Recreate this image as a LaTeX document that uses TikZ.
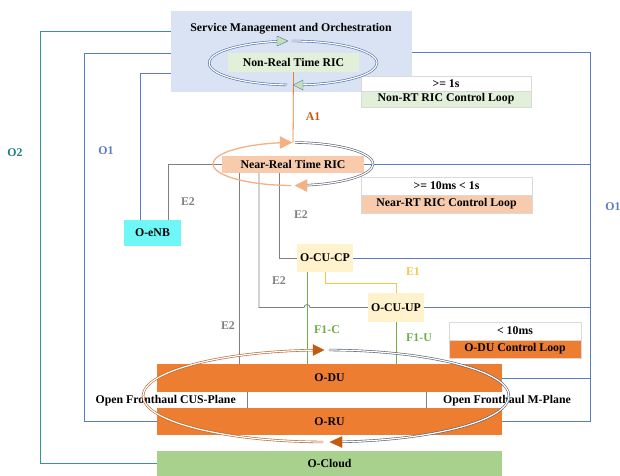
\documentclass[tikz,border=0pt]{standalone}
\usepackage{fontspec}
\setmainfont{Liberation Serif}
\usetikzlibrary{calc}
\definecolor{smoblue}{HTML}{DAE3F3}
\definecolor{nrtgreen}{HTML}{E2F0D9}
\definecolor{nearpeach}{HTML}{F8CBAD}
\definecolor{enbcyan}{HTML}{6FF7F7}
\definecolor{cuyellow}{HTML}{FFF2CC}
\definecolor{duorange}{HTML}{ED7D31}
\definecolor{cloudgreen}{HTML}{A9D18E}
\definecolor{oneblue}{HTML}{5B7BC4}
\definecolor{twoteal}{HTML}{3A9494}
\definecolor{twotext}{HTML}{1F7F7F}
\definecolor{egray}{HTML}{808080}
\definecolor{eoneyellow}{HTML}{F2C94C}
\definecolor{fgreen}{HTML}{70AD47}
\definecolor{aorange}{HTML}{ED7D31}
\definecolor{atext}{HTML}{C55A11}
\definecolor{loopblue}{HTML}{4F6FA8}
\definecolor{arrgreen}{HTML}{C5E0B4}
\definecolor{arrpeach}{HTML}{F4B183}
\definecolor{loopbrown}{HTML}{B5652E}
\definecolor{loopslate}{HTML}{5A6070}
\definecolor{arrbrown}{HTML}{C55A11}
\definecolor{lightborder}{HTML}{D9D9D9}
\begin{document}
\begin{tikzpicture}[x=1pt,y=-1pt,
  font=\fontsize{11.8}{13}\selectfont\bfseries,
  box/.style={inner sep=0pt, text=black},
  loopbox/.style={box, draw=lightborder, line width=0.5pt},
  oneline/.style={draw=oneblue, line width=0.8pt},
  twoline/.style={draw=twoteal, line width=0.9pt},
  etwoline/.style={draw=egray, line width=0.8pt},
  eoneline/.style={draw=eoneyellow, line width=0.9pt},
  fline/.style={draw=fgreen, line width=0.8pt},
  aline/.style={draw=aorange, line width=0.8pt},
  dblloop/.style={draw=#1, double=white, line width=0.6pt, double distance=1.2pt},
  lbl/.style={inner sep=0pt}
]
\useasboundingbox (0,0) rectangle (620,475);
\fill[white] (0,0) rectangle (620,475);

% main boxes
\node[box, fill=smoblue, minimum width=241pt, minimum height=81pt] (smo) at (291.5,51.5) {};
\node[lbl] (smotext) at (291,29) {Service Management and Orchestration};
\node[box, fill=nrtgreen, minimum width=131pt, minimum height=19pt] (nonrt) at (293.5,62.5) {Non-Real Time RIC};
\node[box, fill=nearpeach, minimum width=142pt, minimum height=17pt] (nearrt) at (293,164.5) {Near-Real Time RIC};
\node[box, fill=enbcyan, minimum width=57pt, minimum height=26pt] (oenb) at (152.5,233) {O-eNB};
\node[box, fill=cuyellow, minimum width=56pt, minimum height=28pt] (ocucp) at (325,258) {O-CU-CP};
\node[box, fill=cuyellow, minimum width=56pt, minimum height=29pt] (ocuup) at (396,307.5) {O-CU-UP};
\node[box, fill=duorange, minimum width=345pt, minimum height=28pt] (odu) at (329.5,378) {O-DU};
\node[box, fill=duorange, minimum width=345pt, minimum height=27pt] (oru) at (329.5,421.5) {O-RU};
\node[box, fill=cloudgreen, minimum width=345pt, minimum height=25pt] (ocloud) at (329.5,463.5) {O-Cloud};

% control loop boxes
\node[loopbox, fill=white, minimum width=170pt, minimum height=15pt] (nrtw) at (446,83.5) {>= 1s};
\node[loopbox, fill=nrtgreen, minimum width=170pt, minimum height=16pt] (nrtg) at (446,99) {Non-RT RIC Control Loop};
\node[loopbox, fill=white, minimum width=171pt, minimum height=18pt] (nearw) at (446.5,186) {>= 10ms < 1s};
\node[loopbox, fill=nearpeach, minimum width=171pt, minimum height=18pt] (nearp) at (446.5,204) {Near-RT RIC Control Loop};
\node[loopbox, fill=white, minimum width=132pt, minimum height=18pt] (oduw) at (515,331) {< 10ms};
\node[loopbox, fill=duorange, minimum width=132pt, minimum height=18pt] (oduo) at (515,349) {O-DU Control Loop};

\coordinate (rr) at (590,0);

% O2
\draw[twoline] (smo.west |- 0,31) -- (40,31) |- (ocloud.west);
% O1 left
\draw[oneline] (smo.west |- 0,53) -- (84,53) |- (oru.west);
\draw[oneline] (smo.west |- 0,73) -| ([xshift=-12.5pt]oenb.north);
% O1 right
\draw[oneline] (smo.east |- 0,52) -| (oru.east -| rr) -- (oru.east);
\draw[oneline] (nearrt.east) -- (nearrt.east -| rr);
\draw[oneline] (ocucp.east) -- (ocucp.east -| rr);
\draw[oneline] (ocuup.east) -- (ocuup.east -| rr);
\draw[oneline] (odu.east) -- (odu.east -| rr);

% A1
\draw[aline] (nonrt.south) -- (293,142.5);

% E2
\draw[etwoline] ([xshift=15.5pt]oenb.north) |- (nearrt.west);
\draw[etwoline] (nearrt.south -| 239,0) -- (odu.north -| 239,0);
\draw[etwoline] (nearrt.south -| 259,0) -- (259,307.5) -- (304,307.5)
   arc[start angle=180, end angle=360, radius=3] -- (ocuup.west);
\draw[etwoline] (nearrt.south -| 279,0) |- (ocucp.west);

% E1
\draw[eoneline] (ocucp.south) -- ++(0,11) -| (ocuup.north);
% F1
\draw[fline] ([xshift=-18pt]ocucp.south) -- (odu.north -| 307,0);
\draw[fline] (ocuup.south) -- (odu.north -| ocuup.south);

% fronthaul
\draw[etwoline] (odu.south -| 247,0) -- (oru.north -| 247,0);
\draw[etwoline] (odu.south -| 426,0) -- (oru.north -| 426,0);
\node[lbl, anchor=east] (cus) at (236,400.5) {Open Fronthaul CUS-Plane};
\node[lbl, anchor=west] (mpl) at (443,400.5) {Open Fronthaul M-Plane};

% Non-RT loop
\draw[dblloop=loopblue] (293,63) ++(94.1:84 and 22) arc[start angle=94.1, end angle=259, x radius=84, y radius=22];
\draw[dblloop=loopblue] (293,63) ++(269.3:84 and 22) arc[start angle=269.3, end angle=443.2, x radius=84, y radius=22];
\filldraw[fill=arrgreen, draw=loopblue, line width=0.4pt] (288,41) -- (277,36) -- (277,46) -- cycle;
\filldraw[fill=arrgreen, draw=loopblue, line width=0.4pt] (293,85) -- (303,80) -- (303,90) -- cycle;

% Near-RT loop
\draw[draw=arrpeach, line width=1.3pt] (293,164) ++(91.4:80 and 21.5) arc[start angle=91.4, end angle=260.6, x radius=80, y radius=21.5];
\draw[dblloop=loopslate] (293,164) ++(271.4:80 and 21.5) arc[start angle=271.4, end angle=439.9, x radius=80, y radius=21.5];
\filldraw[fill=arrpeach, draw=arrpeach, line width=0.4pt] (292,142.5) -- (280,136.5) -- (280,148.5) -- cycle;
\filldraw[fill=arrpeach, draw=arrpeach, line width=0.4pt] (295,185.5) -- (307,179.5) -- (307,191.5) -- cycle;

% O-DU loop
\draw[dblloop=loopbrown] (326,396) ++(90.9:183 and 46) arc[start angle=90.9, end angle=265.9, x radius=183, y radius=46];
\draw[dblloop=loopslate] (326,396) ++(270.9:183 and 46) arc[start angle=270.9, end angle=445, x radius=183, y radius=46];
\filldraw[fill=arrbrown, draw=arrbrown, line width=0.4pt] (324,350) -- (313,344.5) -- (313,355.5) -- cycle;
\filldraw[fill=arrbrown, draw=arrbrown, line width=0.4pt] (330,442) -- (342,436.5) -- (342,447.5) -- cycle;

% interface labels
\node[lbl, text=atext] (la1) at (313,117) {A1};
\node[lbl, text=egray] (le2a) at (188,202) {E2};
\node[lbl, text=egray] (le2b) at (301,215) {E2};
\node[lbl, text=egray] (le2c) at (279,281) {E2};
\node[lbl, text=egray] (le2d) at (228,326) {E2};
\node[lbl, text=eoneyellow] (le1) at (413,272) {E1};
\node[lbl, text=fgreen] (lf1c) at (327,330) {F1-C};
\node[lbl, text=fgreen] (lf1u) at (419,338) {F1-U};
\node[lbl, text=oneblue] (lo1l) at (106,151) {O1};
\node[lbl, text=oneblue] (lo1r) at (613,207) {O1};
\node[lbl, text=twotext] (lo2) at (15,153) {O2};
\end{tikzpicture}
\end{document}
